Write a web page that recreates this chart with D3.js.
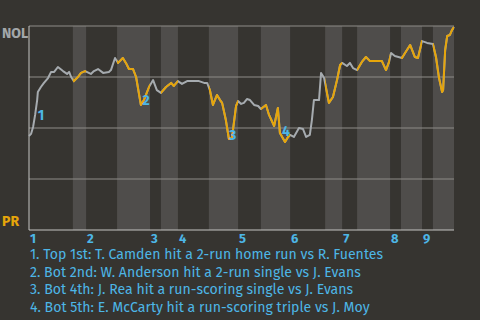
<!DOCTYPE html>
<html lang="en">
<head>
  <meta charset="UTF-8">
  <title>Win Probability: NOL vs PR</title>
  <script src="https://d3js.org/d3.v7.min.js"></script>
  <style>
    body {
      margin: 0;
      padding: 0;
      background-color: #363430;
    }
    svg {
      display: block;
    }
    text {
      font-family: "Fira Sans", Roboto, "Open Sans", sans-serif;
    }
  </style>
</head>
<body>
<div id="chart"></div>

<script>
  // play-by-play index (x) and NOL win probability in % (y)
  const plays = [
    0.0, 0.6, 1.2, 1.8, 2.4, 2.6, 3.5, 4.4, 5.6, 6.5, 7.4, 8.5, 10.0, 11.2, 11.8, 12.4,
    13.2, 14.4, 15.3, 16.5, 18.2, 19.1, 20.3, 21.8, 23.5, 24.1, 25.3, 26.2, 27.6, 28.5,
    29.4, 30.6, 31.5, 32.9, 33.8, 35.3, 36.5, 37.6, 38.8, 40.3, 41.8, 42.6, 43.8, 45.0,
    46.5, 50.0, 51.5, 52.4, 53.2, 54.1, 55.3, 56.2, 56.8, 57.9, 58.8, 59.7, 60.9, 61.5,
    62.4, 63.2, 64.1, 65.0, 66.2, 67.4, 68.2, 69.7, 70.6, 72.1, 73.2, 73.8, 75.3, 76.2,
    76.8, 77.9, 79.4, 80.6, 81.5, 82.6, 83.2, 83.8, 85.3, 85.9, 86.8, 88.2, 89.4, 90.6,
    91.5, 92.1, 93.5, 94.4, 95.3, 96.5, 97.9, 99.1, 100.3, 103.8, 105.0, 105.9, 106.5,
    107.6, 109.7, 110.6, 112.1, 113.5, 114.4, 115.6, 117.1, 118.8, 119.7, 120.6, 121.5,
    121.8, 122.4, 123.0, 123.8, 124.4, 125.0
  ];
  const nolWinPct = [
    46.1, 47.1, 50.5, 56.4, 63.7, 67.6, 70.1, 72.1, 74.5, 77.5, 77.5, 79.9, 77.9, 76.5, 77.5, 75.0,
    73.0, 75.0, 77.0, 77.9, 76.5, 77.9, 78.9, 77.0, 77.5, 78.4, 84.3, 81.9, 84.3, 81.9,
    78.9, 78.9, 75.0, 61.3, 63.7, 70.1, 73.5, 68.6, 67.2, 70.1, 72.1, 70.6, 73.0, 71.6,
    73.0, 73.0, 72.1, 72.1, 68.6, 61.3, 66.2, 63.7, 62.3, 53.9, 44.6, 45.1, 60.8, 63.2,
    61.8, 62.3, 64.2, 63.7, 61.3, 60.8, 59.3, 61.3, 56.4, 51.0, 59.8, 47.5, 43.1, 45.6,
    46.6, 45.6, 50.0, 49.5, 45.6, 46.6, 53.9, 63.7, 63.7, 77.0, 74.5, 62.3, 65.2, 73.5,
    80.9, 81.9, 80.4, 81.9, 79.4, 78.4, 82.4, 84.8, 82.8, 82.8, 78.4, 82.4, 86.8,
    85.3, 84.3, 86.8, 90.7, 84.8, 84.3, 92.6, 91.7, 91.2, 84.8, 74.5, 67.6,
    68.6, 88.2, 95.1, 95.6, 98.0, 99.5
  ];

  // play index where each half inning starts (top 1st ... bottom 9th), last value = end
  const halfInningStarts = [
    0, 12.9, 16.8, 25.9, 35.6, 38.8, 43.8, 52.9, 61.5, 68.2, 76.8, 87.1, 92.1, 96.5,
    106.2, 109.4, 115.6, 118.8, 125
  ];
  const innings = ["1", "2", "3", "4", "5", "6", "7", "8", "9"];
  const yGrid = [25, 50, 75, 100];

  // key plays marked on the line
  const notePlays = [2.6, 33.4, 58.8, 74.4];
  const notePct = [53.9, 61.3, 44.1, 46.1];
  const noteTexts = [
    "1. Top 1st: T. Camden hit a 2-run home run vs R. Fuentes",
    "2. Bot 2nd: W. Anderson hit a 2-run single vs J. Evans",
    "3. Bot 4th: J. Rea hit a run-scoring single vs J. Evans",
    "4. Bot 5th: E. McCarty hit a run-scoring triple vs J. Moy"
  ];

  const width = 480, height = 320;
  const margin = {top: 26, right: 26, bottom: 90, left: 29};

  const grey = "#a6abaf", gold = "#e6a50a", blue = "#4db6e6";

  const svg = d3.select("#chart")
    .append("svg")
    .attr("width", width)
    .attr("height", height);

  svg.append("rect")
    .attr("width", width)
    .attr("height", height)
    .attr("fill", "#363430");

  const x = d3.scaleLinear()
    .domain([0, 125])
    .range([margin.left, width - margin.right]);

  const y = d3.scaleLinear()
    .domain([0, 100])
    .range([height - margin.bottom, margin.top]);

  // shaded bottom halves
  const bottoms = d3.range(1, halfInningStarts.length - 1, 2);
  svg.append("g")
    .selectAll("rect")
    .data(bottoms)
    .join("rect")
    .attr("x", i => x(halfInningStarts[i]))
    .attr("width", i => x(halfInningStarts[i + 1]) - x(halfInningStarts[i]))
    .attr("y", y(100))
    .attr("height", y(0) - y(100))
    .attr("fill", "#4f4d4b");

  // grid lines
  svg.append("g")
    .selectAll("line")
    .data(yGrid)
    .join("line")
    .attr("x1", x(0))
    .attr("x2", x(125))
    .attr("y1", d => y(d))
    .attr("y2", d => y(d))
    .attr("stroke", "#8e8c88")
    .attr("stroke-width", 1);

  // axes
  svg.append("line")
    .attr("x1", x(0)).attr("x2", x(125))
    .attr("y1", y(0)).attr("y2", y(0))
    .attr("stroke", "#c4c4c2");
  svg.append("line")
    .attr("x1", x(0)).attr("x2", x(0))
    .attr("y1", y(0)).attr("y2", y(100))
    .attr("stroke", "#c4c4c2");

  // clip for bottom halves so the line turns gold there
  svg.append("clipPath")
    .attr("id", "bottomClip")
    .selectAll("rect")
    .data(bottoms)
    .join("rect")
    .attr("x", i => x(halfInningStarts[i]))
    .attr("width", i => x(halfInningStarts[i + 1]) - x(halfInningStarts[i]))
    .attr("y", 0)
    .attr("height", height);

  const pts = plays.map((p, i) => [p, nolWinPct[i]]);
  const line = d3.line()
    .x(d => x(d[0]))
    .y(d => y(d[1]));

  svg.append("path")
    .datum(pts)
    .attr("d", line)
    .attr("fill", "none")
    .attr("stroke", grey)
    .attr("stroke-width", 2)
    .attr("stroke-linejoin", "round");

  svg.append("path")
    .datum(pts)
    .attr("d", line)
    .attr("fill", "none")
    .attr("stroke", gold)
    .attr("stroke-width", 2)
    .attr("stroke-linejoin", "round")
    .attr("clip-path", "url(#bottomClip)");

  // note numbers on the line
  svg.append("g")
    .selectAll("text")
    .data(notePlays)
    .join("text")
    .attr("x", d => x(d))
    .attr("y", (d, i) => y(notePct[i]))
    .attr("fill", blue)
    .style("font-size", "14px")
    .style("font-weight", "bold")
    .text((d, i) => i + 1);

  // team labels
  svg.append("text")
    .attr("x", 2)
    .attr("y", y(100) + 12)
    .attr("fill", "#a3a7aa")
    .style("font-size", "14px")
    .style("font-weight", "bold")
    .text("NOL");
  svg.append("text")
    .attr("x", 2)
    .attr("y", y(0) - 4)
    .attr("fill", gold)
    .style("font-size", "14px")
    .style("font-weight", "bold")
    .text("PR");

  // inning labels
  svg.append("g")
    .selectAll("text")
    .data(innings)
    .join("text")
    .attr("x", (d, i) => x(halfInningStarts[i * 2]) + 1)
    .attr("y", y(0) + 13)
    .attr("fill", blue)
    .style("font-size", "13px")
    .style("font-weight", "bold")
    .text(d => d);

  // notes list
  svg.append("g")
    .selectAll("text")
    .data(noteTexts)
    .join("text")
    .attr("x", 30)
    .attr("y", (d, i) => y(0) + 29 + i * 17.5)
    .attr("fill", blue)
    .style("font-size", "14.1px")
    .text(d => d);
</script>
</body>
</html>
